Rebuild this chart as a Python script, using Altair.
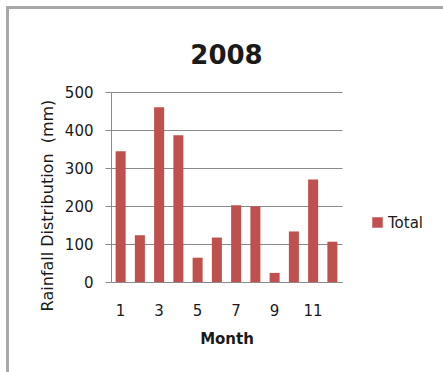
import altair as alt
import pandas as pd

# Monthly rainfall totals for 2008 (mm)
months = [1, 2, 3, 4, 5, 6, 7, 8, 9, 10, 11, 12]
totals = [344, 123, 460, 386, 64, 117, 202, 199, 24, 133, 270, 106]
series = ["Total"] * len(months)

df = pd.DataFrame({"Month": months, "Rainfall": totals, "Series": series})

FONT = "DejaVu Sans"
GRID = "#8a8a8a"
TEXT = "#1a1a1a"
RED = "#C0504D"

bars = alt.Chart(df).mark_bar().encode(
    x=alt.X(
        "Month:O",
        scale=alt.Scale(paddingInner=0.48, paddingOuter=0.24),
        axis=alt.Axis(
            values=[1, 3, 5, 7, 9, 11],
            labelAngle=0,
            ticks=False,
            domainColor=GRID,
            labelFontSize=15,
            labelPadding=21,
            titleFontSize=15,
            titleFontWeight="bold",
            titlePadding=13,
        ),
    ),
    y=alt.Y(
        "Rainfall:Q",
        scale=alt.Scale(domain=[0, 500]),
        axis=alt.Axis(
            values=[0, 100, 200, 300, 400, 500],
            title="Rainfall Distribution\u00a0 (mm)",
            titleY=113,
            domainColor=GRID,
            tickColor=GRID,
            tickSize=6,
            gridColor=GRID,
            gridOpacity=1,
            labelFontSize=15,
            labelPadding=12,
            titleFontSize=16,
            titleFontWeight="normal",
            titlePadding=9,
        ),
    ),
    fill=alt.Fill(
        "Series:N",
        scale=alt.Scale(range=[RED]),
        legend=alt.Legend(
            title=None,
            orient="none",
            legendX=259,
            legendY=123,
            symbolType="square",
            symbolSize=110,
            symbolStrokeWidth=0,
            labelFontSize=15,
            labelOffset=3,
        ),
    ),
)

# Outer chart frame (open to the right and bottom)
frame = alt.Chart(df).mark_rect(
    fill=None, stroke="#a8a8a8", strokeWidth=2
).encode(
    x=alt.value(-103.5), x2=alt.value(350), y=alt.value(-84.5), y2=alt.value(300)
)

chart = alt.layer(frame, bars).properties(
    width=231,
    height=190,
    padding={"left": 111, "top": 92, "right": 101, "bottom": 90},
    autosize=alt.AutoSizeParams(type="none"),
    title=alt.Title(
        "2008", fontSize=26, fontWeight="bold", font=FONT,
        offset=-62, anchor="middle", frame="group", color=TEXT,
    ),
).configure(
    font=FONT,
).configure_view(
    stroke=None,
).configure_axis(
    labelFont=FONT, titleFont=FONT, labelColor=TEXT, titleColor=TEXT
).configure_legend(
    labelFont=FONT, labelColor=TEXT
)

chart.save("out.html", embed_options={"renderer": "svg", "actions": False})
